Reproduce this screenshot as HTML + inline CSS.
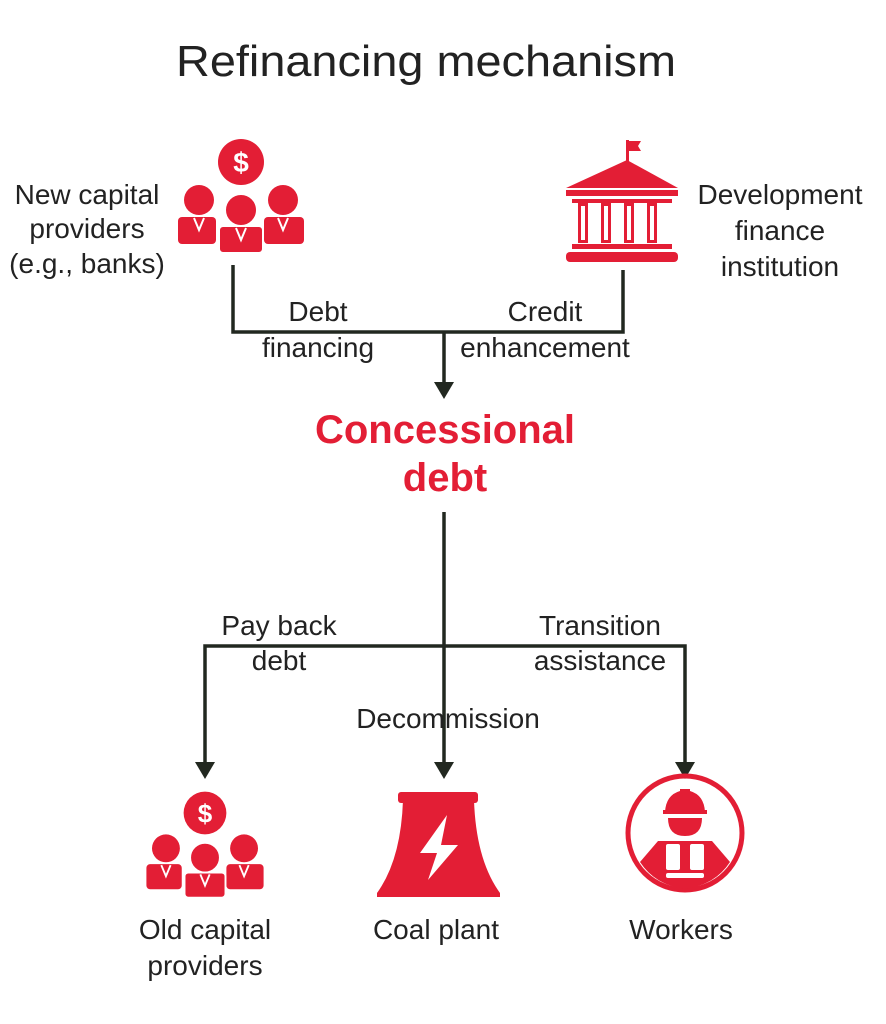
<!DOCTYPE html>
<html><head><meta charset="utf-8"><style>
html,body{margin:0;padding:0;background:#fff;}
svg{display:block;}
text{font-family:"Liberation Sans",sans-serif;fill:#222;}
</style></head><body>
<svg width="886" height="1024" viewBox="0 0 886 1024" xmlns="http://www.w3.org/2000/svg">
<defs>
<g id="people">
  <circle cx="0" cy="0" r="23" fill="#e31e35"/>
  <text x="0" y="10" text-anchor="middle" font-size="28" font-weight="bold" style="fill:#fff">$</text>
  <circle cx="-42" cy="38" r="15" fill="#e31e35"/>
  <circle cx="42" cy="38" r="15" fill="#e31e35"/>
  <rect x="-63" y="55" width="38" height="27" rx="4" fill="#e31e35"/>
  <rect x="23" y="55" width="40" height="27" rx="4" fill="#e31e35"/>
  <circle cx="0" cy="48" r="16" fill="#e31e35" stroke="#fff" stroke-width="2"/>
  <rect x="-22" y="64" width="44" height="27" rx="4" fill="#e31e35" stroke="#fff" stroke-width="2"/>
  <path d="M-47 56 l5 12 l5 -12 M37 56 l5 12 l5 -12 M-5 66 l5 12 l5 -12" stroke="#fff" stroke-width="2" fill="none"/>
</g>
</defs>

<text x="426" y="76" text-anchor="middle" font-size="44" textLength="500" lengthAdjust="spacingAndGlyphs">Refinancing mechanism</text>

<use href="#people" x="241" y="162"/>
<text font-size="28" text-anchor="middle"><tspan x="87" y="204">New capital</tspan><tspan x="87" y="238">providers</tspan><tspan x="87" y="273">(e.g., banks)</tspan></text>

<g fill="#e31e35">
  <rect x="626" y="140" width="3" height="22"/>
  <path d="M629 141 h12 l-3 5 l3 5 h-12z"/>
  <path d="M566 188 L627 160 L678 188 Z"/>
  <rect x="566" y="190" width="112" height="6"/>
  <rect x="572" y="199" width="100" height="4"/>
  <rect x="578" y="203" width="10" height="40"/>
  <rect x="601" y="203" width="10" height="40"/>
  <rect x="624" y="203" width="10" height="40"/>
  <rect x="647" y="203" width="10" height="40"/>
  <rect x="572" y="244" width="100" height="5"/>
  <rect x="566" y="252" width="112" height="10" rx="4"/>
</g>
<g fill="#fff"><rect x="581" y="206" width="4" height="34"/><rect x="604" y="206" width="4" height="34"/><rect x="627" y="206" width="4" height="34"/><rect x="650" y="206" width="4" height="34"/></g>
<text font-size="28" text-anchor="middle"><tspan x="780" y="204">Development</tspan><tspan x="780" y="240">finance</tspan><tspan x="780" y="276">institution</tspan></text>

<g stroke="#222820" stroke-width="3.5" fill="none">
  <path d="M233 265 V332 H623 V270"/>
  <path d="M444 332 V385"/>
</g>
<path d="M434 382 L454 382 L444 399 Z" fill="#222820"/>
<text font-size="28" text-anchor="middle"><tspan x="318" y="321">Debt</tspan><tspan x="318" y="357">financing</tspan><tspan x="545" y="321">Credit</tspan><tspan x="545" y="357">enhancement</tspan></text>

<text font-size="40" font-weight="bold" text-anchor="middle" style="fill:#e31e35"><tspan x="445" y="443">Concessional</tspan><tspan x="445" y="491">debt</tspan></text>

<g stroke="#222820" stroke-width="3.5" fill="none">
  <path d="M444 512 V765"/>
  <path d="M205 765 V646 H685 V765"/>
</g>
<g fill="#222820">
  <path d="M195 762 L215 762 L205 779 Z"/>
  <path d="M434 762 L454 762 L444 779 Z"/>
  <path d="M675 762 L695 762 L685 779 Z"/>
</g>
<text font-size="28" text-anchor="middle"><tspan x="279" y="635">Pay back</tspan><tspan x="279" y="670">debt</tspan><tspan x="600" y="635">Transition</tspan><tspan x="600" y="670">assistance</tspan><tspan x="448" y="728">Decommission</tspan></text>

<use href="#people" x="205" y="813" transform="translate(205 813) scale(0.93) translate(-205 -813)"/>

<rect x="398" y="792" width="80" height="11" rx="3" fill="#e31e35"/>
<path d="M403 800 H474 Q476 860 500 893 V897 H377 V893 Q401 860 403 800 Z" fill="#e31e35"/>
<path d="M447 815 L420 853 L437 853 L428 880 L458 845 L441 845 Z" fill="#fff"/>

<circle cx="685" cy="833" r="57" fill="none" stroke="#e31e35" stroke-width="5"/>
<g fill="#e31e35">
  <path d="M665 812 Q666 795 680 791 V789 H690 V791 Q704 795 705 812 Z"/>
  <rect x="663" y="810" width="44" height="4"/>
  <path d="M668 818 H702 Q702 836 685 836 Q668 836 668 818 Z"/>
  <path d="M658 841 H712 L730 862 Q715 885 685 889 Q655 885 640 862 Z"/>
</g>
<g fill="#fff">
  <rect x="666" y="844" width="14" height="26" rx="2"/>
  <rect x="690" y="844" width="14" height="26" rx="2"/>
  <rect x="666" y="873" width="38" height="5" rx="2"/>
</g>

<text font-size="28" text-anchor="middle"><tspan x="205" y="939">Old capital</tspan><tspan x="205" y="975">providers</tspan><tspan x="436" y="939">Coal plant</tspan><tspan x="681" y="939">Workers</tspan></text>
</svg>
</body></html>
